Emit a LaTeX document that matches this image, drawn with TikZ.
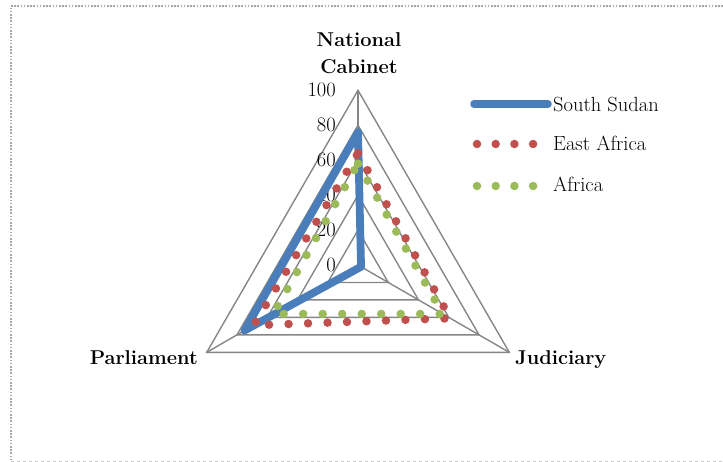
\documentclass[tikz,border=0pt]{standalone}
\definecolor{ssblue}{HTML}{4A7EBB}
\definecolor{eared}{HTML}{C0504D}
\definecolor{afgreen}{HTML}{9BBB59}
\definecolor{gridgray}{HTML}{868686}
\definecolor{framegray}{HTML}{A6A6A6}
\begin{document}
\begin{tikzpicture}[x=1pt,y=-1pt,
  gridline/.style={draw=gridgray, line width=1.4pt, line join=miter},
  ssline/.style={draw=ssblue, line width=7.8pt, line join=round, line cap=round},
  dotline/.style={line width=8.5pt, line cap=round, dash pattern=on 0pt off 19.5pt},
  lbl/.style={inner sep=0pt, font=\fontsize{20.5}{24}\selectfont},
  cat/.style={inner sep=0pt, font=\fontsize{20}{26}\selectfont\bfseries}]
\useasboundingbox (0,0) rectangle (723,462);
% frame
\coordinate (f1) at (11,6);
\coordinate (f2) at (723,6);
\coordinate (f3) at (11,461);
\coordinate (f4) at (723,461);
\draw[framegray, line width=1.2pt, dash pattern=on 1.6pt off 1.6pt] (f2) -- (f1) -- (f3);
\draw[framegray!60, line width=1pt, dash pattern=on 3pt off 3pt] (f3) -- (f4);
% chart
\begin{scope}[shift={(358,265)}]
  \coordinate (O) at (0,0);
  \foreach \v in {20,40,60,80,100}{
    \draw[gridline] (-90:{\v*1.747}) -- (30:{\v*1.747}) -- (150:{\v*1.747}) -- cycle;
  }
  \coordinate (cab) at (-90:174.7);
  \coordinate (jud) at (30:174.7);
  \coordinate (par) at (150:174.7);
  \draw[gridline] (O) -- (cab);
  \draw[gridline] (O) -- (jud);
  \draw[gridline] (O) -- (par);
  \foreach \v in {0,20,40,60,80,100}{
    \node[lbl, anchor=base east] (t\v) at (-22,{-\v*1.747+6.5}) {\v};
  }
  % series
  \coordinate (s1) at (-90:{76*1.747});
  \coordinate (s2) at (30:{2*1.747});
  \coordinate (s3) at (150:{75*1.747});
  \draw[ssline] (s1) -- (s2) -- (s3) -- cycle;
  \coordinate (e1) at (-90:{64*1.747});
  \coordinate (e2) at (30:{61*1.747});
  \coordinate (e3) at (150:{69*1.747});
  \draw[eared, dotline] (e1) -- (e2) -- (e3) -- cycle;
  \coordinate (a1) at (-90:{58*1.747});
  \coordinate (a2) at (30:{56*1.747});
  \coordinate (a3) at (150:{56*1.747});
  \draw[afgreen, dotline] (a1) -- (a2) -- (a3) -- cycle;
\end{scope}
% category labels
\node[cat, anchor=base] (nat) at (359,46.5) {National};
\node[cat, anchor=base] (cabl) at (359,73.3) {Cabinet};
\node[cat, anchor=base east] (parl) at (198,364) {Parliament};
\node[cat, anchor=base west] (judl) at (515,364) {Judiciary};
% legend
\coordinate (lb1) at (474,104);
\coordinate (lb2) at (548,104);
\draw[ssblue, line width=7.5pt, line cap=round] (lb1) -- (lb2);
\node[lbl, anchor=base west] (lt1) at (553,112) {South Sudan};
\coordinate (lr1) at (477,144);
\coordinate (lr2) at (534,144);
\draw[eared, line width=8.5pt, line cap=round, dash pattern=on 0pt off 18.7pt] (lr1) -- (lr2);
\node[lbl, anchor=base west] (lt2) at (553,150.5) {East Africa};
\coordinate (lg1) at (477,186);
\coordinate (lg2) at (534,186);
\draw[afgreen, line width=8.5pt, line cap=round, dash pattern=on 0pt off 18.7pt] (lg1) -- (lg2);
\node[lbl, anchor=base west] (lt3) at (553,192) {Africa};
\end{tikzpicture}
\end{document}
